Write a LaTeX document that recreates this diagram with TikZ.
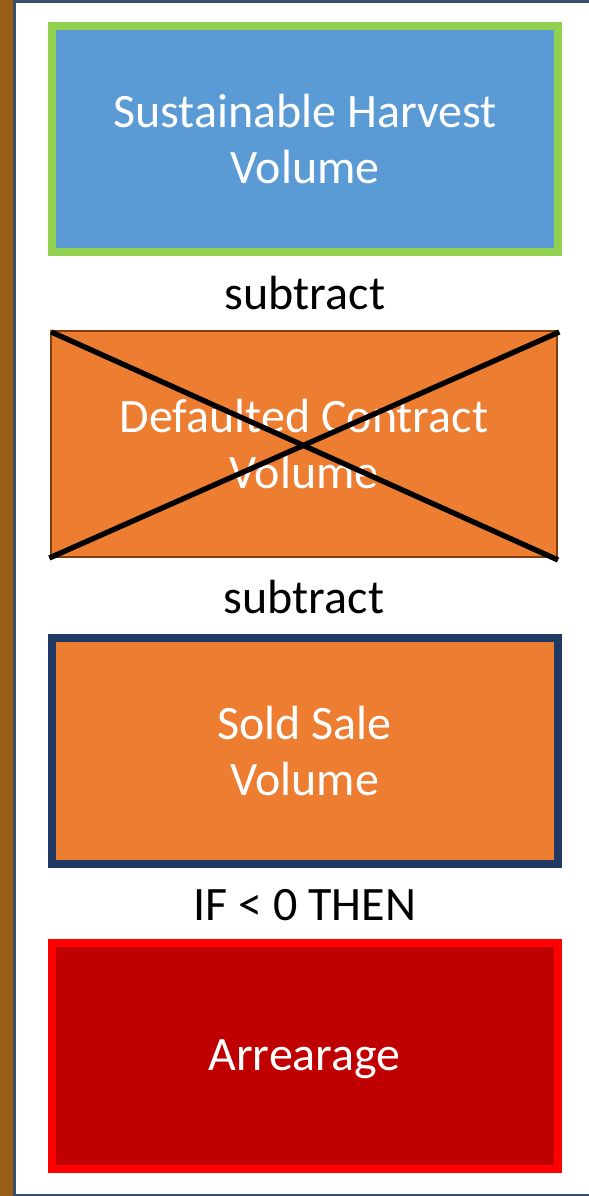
\documentclass[tikz,border=0pt]{standalone}
\usepackage{fontspec}
\setmainfont{Carlito}
\definecolor{barbrown}{HTML}{9A5E16}
\definecolor{framedark}{HTML}{34506E}
\definecolor{harvestblue}{HTML}{5B9BD5}
\definecolor{harvestgreen}{HTML}{92D050}
\definecolor{accentorange}{HTML}{ED7D31}
\definecolor{rustedge}{HTML}{843C0C}
\definecolor{navyedge}{HTML}{203864}
\definecolor{deepred}{HTML}{C00000}
\definecolor{brightred}{HTML}{FF0000}
\tikzset{
  volbox/.style={rectangle, minimum width=379.5pt, minimum height=169.5pt,
    inner sep=0pt, align=center, text=white,
    font=\fontsize{36}{42}\selectfont},
  heavyedge/.style={line width=6pt},
  opword/.style={anchor=base, inner sep=0pt, text=black,
    font=\fontsize{36}{42}\selectfont},
  strike/.style={line width=4pt, black, line cap=butt}
}
\begin{document}
\begin{tikzpicture}[x=0.75pt,y=-0.75pt]
  \useasboundingbox (0,0) rectangle (589,1196);
  \fill[white] (0,0) rectangle (589,1196);
  % side bar and frame
  \fill[barbrown] (0,0) rectangle (13.5,1196);
  \draw[framedark, line width=1.9pt] (589,1.3) -- (14.6,1.3) -- (14.6,1194.8) -- (589,1194.8);

  % value boxes
  \node[volbox, heavyedge, draw=harvestgreen, fill=harvestblue] (harvest) at (305,139)
    {Sustainable Harvest\\Volume};
  \node[volbox, line width=1.5pt, draw=rustedge, fill=accentorange] (defaulted) at (304,444)
    {Defaulted Contract\\Volume};
  \node[volbox, heavyedge, draw=navyedge, fill=accentorange] (sold) at (304.5,751)
    {Sold Sale\\Volume};
  \node[volbox, heavyedge, draw=brightred, fill=deepred, text depth=0pt] (arrearage) at (304.5,1055.5)
    {Arrearage};

  % operations between boxes
  \node[opword] (sub1) at (305,309) {subtract};
  \node[opword] (sub2) at (304,613) {subtract};
  \node[opword] (cond) at (305,920) {IF < 0 THEN};

  % struck-out box
  \coordinate (xa) at ([shift={(1pt,-1.5pt)}]defaulted.north west);
  \coordinate (xb) at ([shift={(0pt,-1.5pt)}]defaulted.south east);
  \coordinate (xc) at ([shift={(-0.5pt,0pt)}]defaulted.south west);
  \coordinate (xd) at ([shift={(1pt,-1.5pt)}]defaulted.north east);
  \draw[strike] (xa) -- (xb);
  \draw[strike] (xc) -- (xd);
\end{tikzpicture}
\end{document}
